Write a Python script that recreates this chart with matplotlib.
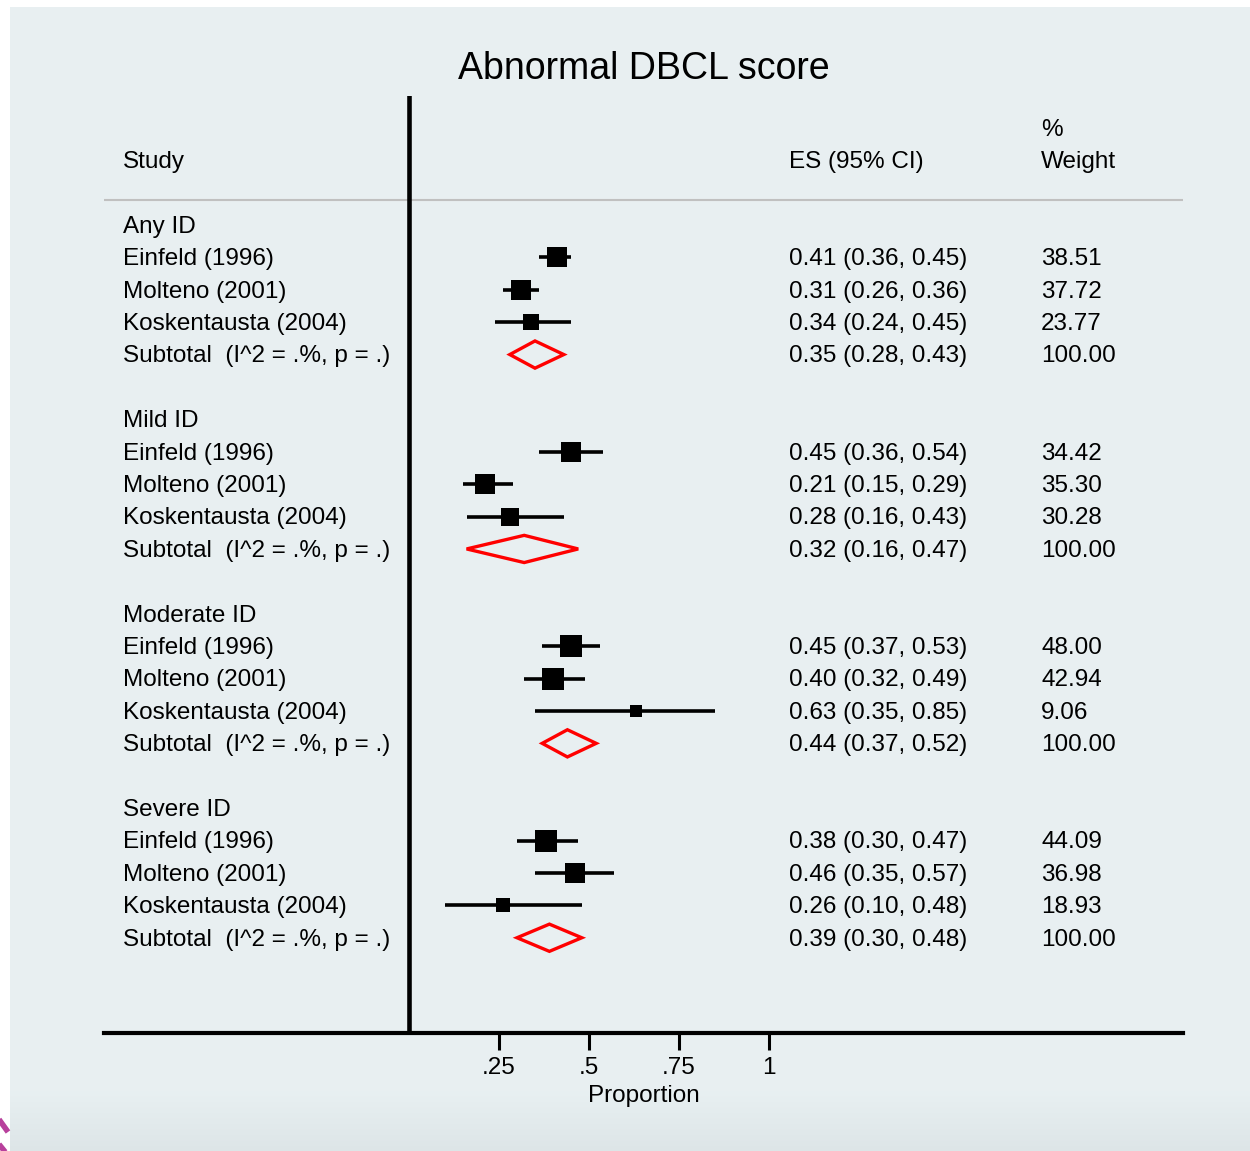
import numpy as np
import matplotlib.pyplot as plt
from matplotlib.patches import Polygon
from matplotlib.transforms import blended_transform_factory

plt.rcParams['font.family'] = ['Liberation Sans', 'DejaVu Sans']

# 數據
groups = ["Any ID", "Mild ID", "Moderate ID", "Severe ID"]
studies = ["Einfeld (1996)", "Molteno (2001)", "Koskentausta (2004)"]
es = [[0.41, 0.31, 0.34], [0.45, 0.21, 0.28], [0.45, 0.40, 0.63], [0.38, 0.46, 0.26]]
lo = [[0.36, 0.26, 0.24], [0.36, 0.15, 0.16], [0.37, 0.32, 0.35], [0.30, 0.35, 0.10]]
hi = [[0.45, 0.36, 0.45], [0.54, 0.29, 0.43], [0.53, 0.49, 0.85], [0.47, 0.57, 0.48]]
weight = [[38.51, 37.72, 23.77], [34.42, 35.30, 30.28], [48.00, 42.94, 9.06], [44.09, 36.98, 18.93]]
sub_es = [0.35, 0.32, 0.44, 0.39]
sub_lo = [0.28, 0.16, 0.37, 0.30]
sub_hi = [0.43, 0.47, 0.52, 0.48]
sub_label = "Subtotal  (I^2 = .%, p = .)"
xticks = [0.25, 0.5, 0.75, 1]
xticklabels = [".25", ".5", ".75", "1"]

FS = 17.5
TY = 0.06  # 文字垂直微調
W, H = 1250, 1151
fig = plt.figure(figsize=(W / 100, H / 100), dpi=100)
fig.patch.set_facecolor("white")

# 背景 (淺藍灰色, 底部略暗)
bg = fig.add_axes([0, 0, 1, 1])
bg.set_xlim(0, W)
bg.set_ylim(H, 0)
bg.axis("off")
grad = np.ones((H, 1, 3)) * np.array([0.910, 0.941, 0.949])
rows = np.arange(H)
t = np.clip((rows - 1090) / (H - 1090), 0, 1)[:, None]
grad[:, 0, :] = grad[:, 0, :] * (1 - t) + np.array([0.867, 0.898, 0.906]) * t
bg.imshow(grad, extent=(10, W, H, 7), aspect="auto", zorder=0)
bg.plot([-2, 8], [1118, 1132], color="#b8409c", lw=4, solid_capstyle="butt")
bg.plot([-2, 6], [1143, 1153], color="#b8409c", lw=4, solid_capstyle="butt")

# 主圖
x0, x1, y0, y1 = 104, 1183, 96, 1033
ax = fig.add_axes([x0 / W, 1 - y1 / H, (x1 - x0) / W, (y1 - y0) / H])
ax.patch.set_alpha(0)
ax.set_xlim((x0 - 409) / 360, (x1 - 409) / 360)
ax.set_ylim(24.94, -3.98)
for s in ["top", "right", "left"]:
    ax.spines[s].set_visible(False)
ax.spines["bottom"].set_linewidth(3)
ax.set_yticks([])
ax.set_xticks(xticks)
ax.set_xticklabels(xticklabels, fontsize=FS)
ax.tick_params(axis="x", length=12, width=2.2, pad=5.5)
ax.set_xlabel("Proportion", fontsize=FS, labelpad=4)
ax.set_title("Abnormal DBCL score", fontsize=27, pad=12)

ax.axvline(0, color="black", lw=3.3, zorder=3)
ax.axhline(-0.77, color="#c0c0c0", lw=1.5)

tr = blended_transform_factory(ax.transAxes, ax.transData)
c_study, c_es, c_w = 0.0176, 0.6348, 0.8684


def label(x, r, s):
    ax.text(x, r + TY, s, transform=tr, fontsize=FS, va="center")


label(c_study, -2, "Study")
label(c_es, -2, "ES (95% CI)")
label(c_w, -3, "%")
label(c_w, -2, "Weight")

for g, name in enumerate(groups):
    r0 = g * 6
    label(c_study, r0, name)
    for i, st in enumerate(studies):
        r = r0 + 1 + i
        label(c_study, r, st)
        ax.plot([lo[g][i], hi[g][i]], [r, r], color="black", lw=2.6, solid_capstyle="butt")
        side = max(3.3 * np.sqrt(weight[g][i]), 12) * 0.72
        ax.scatter(es[g][i], r, marker="s", s=side ** 2, color="black", linewidths=0, zorder=4)
        label(c_es, r, f"{es[g][i]:.2f} ({lo[g][i]:.2f}, {hi[g][i]:.2f})")
        label(c_w, r, f"{weight[g][i]:.2f}")
    r = r0 + 4
    label(c_study, r, sub_label)
    dia = Polygon([[sub_lo[g], r], [sub_es[g], r - 0.42], [sub_hi[g], r], [sub_es[g], r + 0.42]],
                  closed=True, fill=False, edgecolor="red", lw=2.4)
    ax.add_patch(dia)
    label(c_es, r, f"{sub_es[g]:.2f} ({sub_lo[g]:.2f}, {sub_hi[g]:.2f})")
    label(c_w, r, "100.00")

fig.savefig("out.png", dpi=100)
